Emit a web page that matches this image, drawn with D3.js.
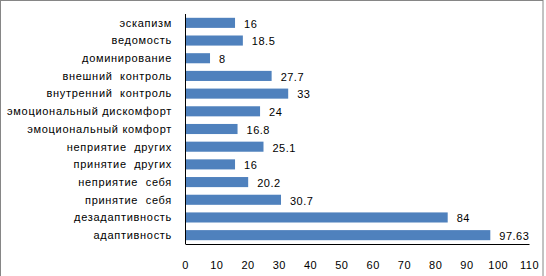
<!DOCTYPE html>
<html>
<head>
<meta charset="utf-8">
<script src="https://cdn.jsdelivr.net/npm/d3@7"></script>
<style>
body { margin: 0; background: #fff; }
text { font-family: "Liberation Sans", Arial, sans-serif; font-size: 11px; fill: #000; }
</style>
</head>
<body>
<script>
var categories = ['эскапизм', 'ведомость', 'доминирование', 'внешний  контроль', 'внутренний  контроль',
	'эмоциональный дискомфорт', 'эмоциональный комфорт', 'неприятие  других', 'принятие  других',
	'неприятие  себя', 'принятие  себя', 'дезадаптивность', 'адаптивность'];
var values = [16, 18.5, 8, 27.7, 33, 24, 16.8, 25.1, 16, 20.2, 30.7, 84, 97.63];
var valueLabels = ['16', '18.5', '8', '27.7', '33', '24', '16.8', '25.1', '16', '20.2', '30.7', '84', '97.63'];
var ticks = [0, 10, 20, 30, 40, 50, 60, 70, 80, 90, 100, 110];

var width = 546;
var height = 276;
var svg = d3.select('body').append('svg')
	.attr('width', width)
	.attr('height', height);

// frame
svg.append('rect')
	.attr('x', 0.5).attr('y', 0.5)
	.attr('width', 542.5).attr('height', 290)
	.attr('fill', 'none')
	.attr('stroke', '#868686');

var x = d3.scaleLinear().domain([0, 110]).range([185, 529]);
var y = d3.scaleBand().domain(categories).range([14, 244]).paddingInner(0.43).paddingOuter(0.215);

svg.selectAll('rect.bar')
	.data(values)
	.enter()
	.append('rect')
	.attr('class', 'bar')
	.attr('x', x(0))
	.attr('y', function(d, i){ return y(categories[i]); })
	.attr('width', function(d){ return x(d) - x(0); })
	.attr('height', y.bandwidth())
	.attr('fill', '#4f81bd');

svg.selectAll('text.val')
	.data(values)
	.enter()
	.append('text')
	.attr('class', 'val')
	.attr('x', function(d){ return x(d) + 9; })
	.attr('y', function(d, i){ return y(categories[i]) + y.bandwidth() / 2 + 1; })
	.attr('dy', '0.35em')
	.style('letter-spacing', '0.5px')
	.text(function(d, i){ return valueLabels[i]; });

svg.selectAll('text.cat')
	.data(categories)
	.enter()
	.append('text')
	.attr('class', 'cat')
	.attr('x', 172)
	.attr('y', function(d){ return y(d) + y.bandwidth() / 2; })
	.attr('dy', '0.35em')
	.attr('text-anchor', 'end')
	.style('letter-spacing', '0.7px')
	.style('white-space', 'pre')
	.text(function(d){ return d; });

// axes
var xAxis = svg.append('g')
	.attr('transform', 'translate(0,244)')
	.call(d3.axisBottom(x).tickValues(ticks).tickSize(0).tickPadding(17));
xAxis.select('.domain').attr('stroke', '#000');
xAxis.selectAll('text').style('font-family', '"Liberation Sans", Arial, sans-serif').style('font-size', '11px').style('letter-spacing', '0.5px');

svg.append('line')
	.attr('x1', 185.5).attr('x2', 185.5)
	.attr('y1', 14).attr('y2', 244)
	.attr('stroke', '#000');
</script>
</body>
</html>
